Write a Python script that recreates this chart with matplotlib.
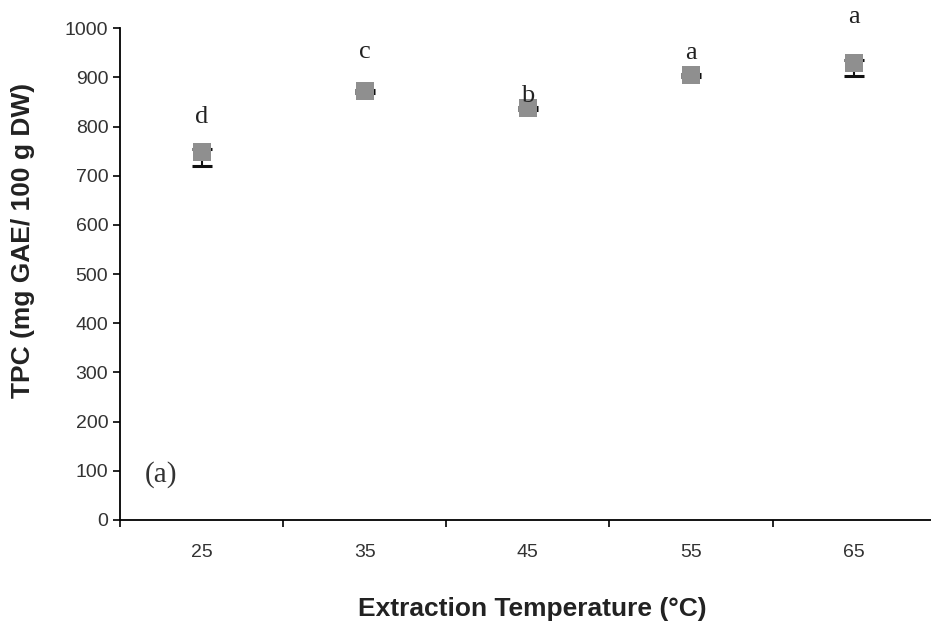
import numpy as np
import matplotlib
matplotlib.use("Agg")
import matplotlib.pyplot as plt

temps = ["25", "35", "45", "55", "65"]
tpc = [748, 872, 837, 904, 929]
err_low = [28, 3, 3, 3, 27]
err_high = [6, 3, 3, 3, 6]
letters = ["d", "c", "b", "a", "a"]
letter_y = [819, 951, 862, 949, 1022]

plt.rcParams['font.family'] = ['Liberation Sans', 'DejaVu Sans']

fig = plt.figure(figsize=(9.31, 6.25), dpi=100)
ax = fig.add_axes([0.129, 0.168, 0.876, 0.787])

x = np.arange(len(temps)) + 0.5
ax.errorbar(x, tpc, yerr=[err_low, err_high], fmt='none', ecolor='#111111',
            elinewidth=1.5, capsize=7, capthick=2.2, zorder=2)
ax.scatter(x, tpc, marker='s', s=150, color='#8f8f8f', zorder=3, linewidths=0)

for xi, lab, ly in zip(x, letters, letter_y):
    ax.text(xi, ly, lab, ha='center', va='center', fontsize=19,
            family=['Liberation Serif'], color='#222222', clip_on=False)

ax.text(0.15, 93, "(a)", ha='left', va='center', fontsize=21,
        family=['Liberation Serif'], color='#333333')

ax.set_xlim(0, 5)
ax.set_ylim(0, 1000)
ax.set_yticks(np.arange(0, 1001, 100))
ax.set_xticks(np.arange(0, 6))
ax.set_xticklabels([])
ax.set_xticks(x, minor=True)
ax.set_xticklabels(temps, minor=True)
ax.tick_params(axis='x', which='major', direction='out', length=5, width=1.2)
ax.tick_params(axis='x', which='minor', length=0, pad=17, labelsize=14, labelcolor='#333333')
ax.tick_params(axis='y', direction='out', length=5, width=1.2, labelsize=14, labelcolor='#333333')

for s in ['top', 'right']:
    ax.spines[s].set_visible(False)
ax.spines['left'].set_linewidth(1.3)
ax.spines['bottom'].set_linewidth(1.3)

fig.text(532 / 931, 1 - 609 / 625, "Extraction Temperature (°C)", fontsize=19,
         fontweight='bold', color='#222222', ha='center', va='center')
fig.text(23 / 931, 1 - 240 / 625, "TPC (mg GAE/ 100 g DW)", fontsize=19,
         fontweight='bold', color='#222222', ha='center', va='center',
         rotation=90)

fig.savefig("out.png", dpi=100)
